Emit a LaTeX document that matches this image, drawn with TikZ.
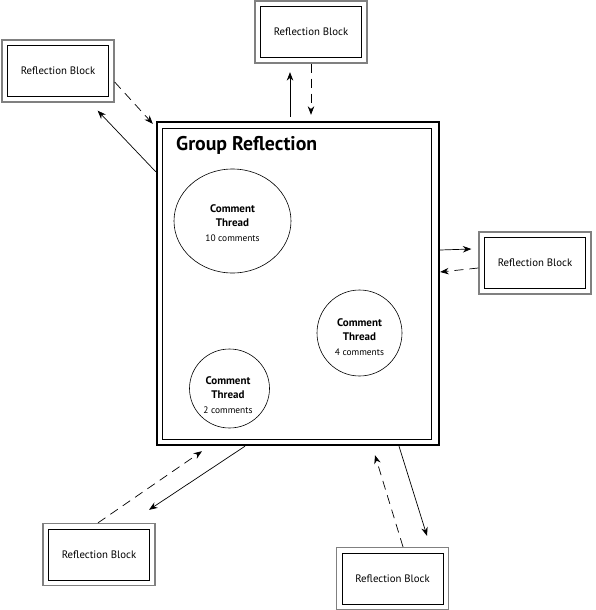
\documentclass[tikz,border=0pt]{standalone}
\usepackage{fontspec}
\setmainfont{PT Sans}
\usetikzlibrary{positioning,calc,shapes.geometric,arrows.meta}
\definecolor{BlockGray}{RGB}{128,128,128}
\newcommand{\ccount}[1]{{\fontsize{9.4}{14.5}\selectfont\mdseries #1}}

\begin{document}
\begin{tikzpicture}[x=1pt, y=-1pt,
                % Hình dáng khối phản hồi (viền đôi)
                refblock/.pic={
                    \node[draw=BlockGray, line width=1.3pt, minimum width=112pt, minimum height=62pt] (-o) at (0,0) {};
                    \node[draw=black, line width=0.7pt, minimum width=101pt, minimum height=51pt, font=\fontsize{10.8}{12}\selectfont] (-i) at (0,0) {Reflection Block};
                },
                thread/.style={draw, ellipse, line width=0.6pt, inner sep=0pt},
                threadtext/.style={align=center, inner sep=0pt, font=\fontsize{11}{14.5}\selectfont\bfseries},
                arrow/.style={-{Stealth[length=8.5pt,width=6.5pt]}, line width=0.7pt},
                dasharrow/.style={arrow, dash pattern=on 9pt off 6pt}
            ]
                \useasboundingbox (0,0) rectangle (595,610);

                % Group box
                \node[draw, line width=2.4pt, minimum width=282pt, minimum height=323pt] (grp) at (298,283.5) {};
                \node[draw, line width=0.8pt, minimum width=269pt, minimum height=311pt] (grp-in) at (297,284) {};
                \node[anchor=base west, inner sep=0pt, font=\fontsize{19.8}{22}\selectfont\bfseries] (title) at (176,150) {Group Reflection};

                % Threads
                \node[thread, minimum width=117pt, minimum height=104pt] (t1) at (232.5,221) {};
                \node[threadtext] (t1-txt) at ([yshift=-2pt]t1.center) {Comment\\Thread\\\ccount{10 comments}};
                \node[thread, minimum width=85pt, minimum height=86pt] (t2) at (359.5,333) {};
                \node[threadtext] (t2-txt) at ([yshift=-4pt]t2.center) {Comment\\Thread\\\ccount{4 comments}};
                \node[thread, minimum width=80pt, minimum height=79pt] (t3) at (229.5,388.5) {};
                \node[threadtext] (t3-txt) at ([shift={(-1.5pt,-6.5pt)}]t3.center) {Comment\\Thread\\\ccount{2 comments}};

                % Reflection blocks
                \path (58,71) pic (tl) {refblock};
                \path (311,32) pic (top) {refblock};
                \path (535,263) pic (rt) {refblock};
                \path (99,554.5) pic (bl) {refblock};
                \path (392.5,578.5) pic (br) {refblock};

                % Connectors
                \draw[arrow] ([yshift=-51pt]grp.north west) -- ([shift={(-17pt,-8pt)}]tl-o.south east);
                \draw[dasharrow] ([yshift=-11pt]tl-o.east) -- ([shift={(-3pt,-3pt)}]grp.north west);
                \draw[arrow] ([shift={(-8pt,4pt)}]grp.north) -- ([shift={(-21pt,-8.5pt)}]top-o.south);
                \draw[dasharrow] (top-o.south) -- ([shift={(13pt,6pt)}]grp.north);
                \draw[arrow] ([yshift=33.5pt]grp.east) -- ([shift={(-7pt,14pt)}]rt-o.west);
                \draw[dasharrow] ([yshift=-5pt]rt-o.west) -- ([yshift=11.5pt]grp.east);
                \draw[arrow] ([xshift=-53pt]grp.south) -- ([shift={(50pt,13pt)}]bl-o.north);
                \draw[dasharrow] ([xshift=-1pt]bl-o.north) -- ([shift={(-96pt,-5pt)}]grp.south);
                \draw[arrow] ([xshift=101pt]grp.south) -- ([shift={(34.5pt,11pt)}]br-o.north);
                \draw[dasharrow] ([xshift=10.5pt]br-o.north) -- ([shift={(77pt,-9pt)}]grp.south);

            \end{tikzpicture}
\end{document}
